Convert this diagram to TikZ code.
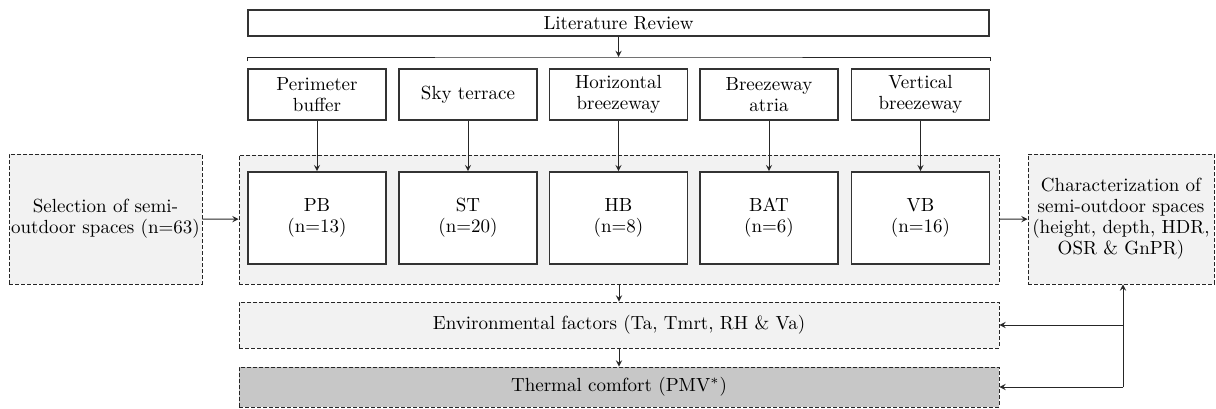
\documentclass[tikz,border=0pt]{standalone}
\usetikzlibrary{arrows}

\begin{document}
\begin{tikzpicture}[
    x=0.5pt, y=-0.5pt,
    font=\fontsize{9.5}{10.5}\selectfont,
    box/.style={draw, rectangle, thick, draw=black!80, fill=white, minimum width=69pt, align=center, inner sep=0pt},
    dbox/.style={draw=black!85, dash pattern=on 2pt off 1pt, fill=black!5, align=center, inner sep=0pt},
    msg/.style={->, >=stealth, draw=black!85},
    line/.style={draw=black!85}
]
\useasboundingbox (0,0) rectangle (1216,408);

% Literature review and bracket
\node[box, minimum width=370.5pt, minimum height=13pt] (lr) at (618.5,23) {Literature Review};
\coordinate (brk) at (618.5,57);

% Group container
\node[dbox, minimum width=380pt, minimum height=64.5pt] (grp) at (619,219.5) {};

% Typologies
\node[box, minimum height=25.5pt] (t1) at (317,94.5) {Perimeter\\buffer};
\node[box, minimum height=25.5pt] (t2) at (468,94.5) {Sky terrace};
\node[box, minimum height=25.5pt] (t3) at (618.5,94.5) {Horizontal\\breezeway};
\node[box, minimum height=25.5pt] (t4) at (769,94.5) {Breezeway\\atria};
\node[box, minimum height=25.5pt] (t5) at (920.5,94.5) {Vertical\\breezeway};

% Samples
\node[box, minimum height=46pt] (b1) at (317,218) {PB\\(n=13)};
\node[box, minimum height=46pt] (b2) at (468,218) {ST\\(n=20)};
\node[box, minimum height=46pt] (b3) at (618.5,218) {HB\\(n=8)};
\node[box, minimum height=46pt] (b4) at (769,218) {BAT\\(n=6)};
\node[box, minimum height=46pt] (b5) at (920.5,218) {VB\\(n=16)};

% Side and bottom blocks
\node[dbox, minimum width=96.5pt, minimum height=65pt] (sel) at (105.5,219) {Selection of semi-\\outdoor spaces (n=63)};
\node[dbox, minimum width=93pt, minimum height=65pt] (chr) at (1121,219) {Characterization of\\semi-outdoor spaces\\(height, depth, HDR,\\OSR \& GnPR)};
\node[dbox, minimum width=380pt, minimum height=23pt] (env) at (619,325) {Environmental factors (Ta, Tmrt, RH \& Va)};
\node[dbox, fill=black!22, minimum width=380pt, minimum height=20pt] (thm) at (619,387) {Thermal comfort (PMV$^{*}$)};

% Bracket
\draw[msg] (lr) -- (brk);
\draw[line] ([yshift=3.5pt]t1.north west) |- (brk) -| ([yshift=3.5pt]t5.north east);

% Arrows
\foreach \i in {1,...,5}
    \draw[msg] (t\i) -- (b\i);
\draw[msg] (sel) -- (grp);
\draw[msg] (grp) -- (chr);
\draw[msg] (grp) -- (env);
\draw[msg] (env) -- (thm);

% Feedback
\coordinate (jn) at ([xshift=1pt]chr.south |- thm.east);
\draw[msg] (jn) -- ([xshift=1pt]chr.south);
\draw[msg] ([xshift=1pt]chr.south |- env.east) -- (env.east);
\draw[msg] (jn) -- (thm.east);

\end{tikzpicture}
\end{document}
